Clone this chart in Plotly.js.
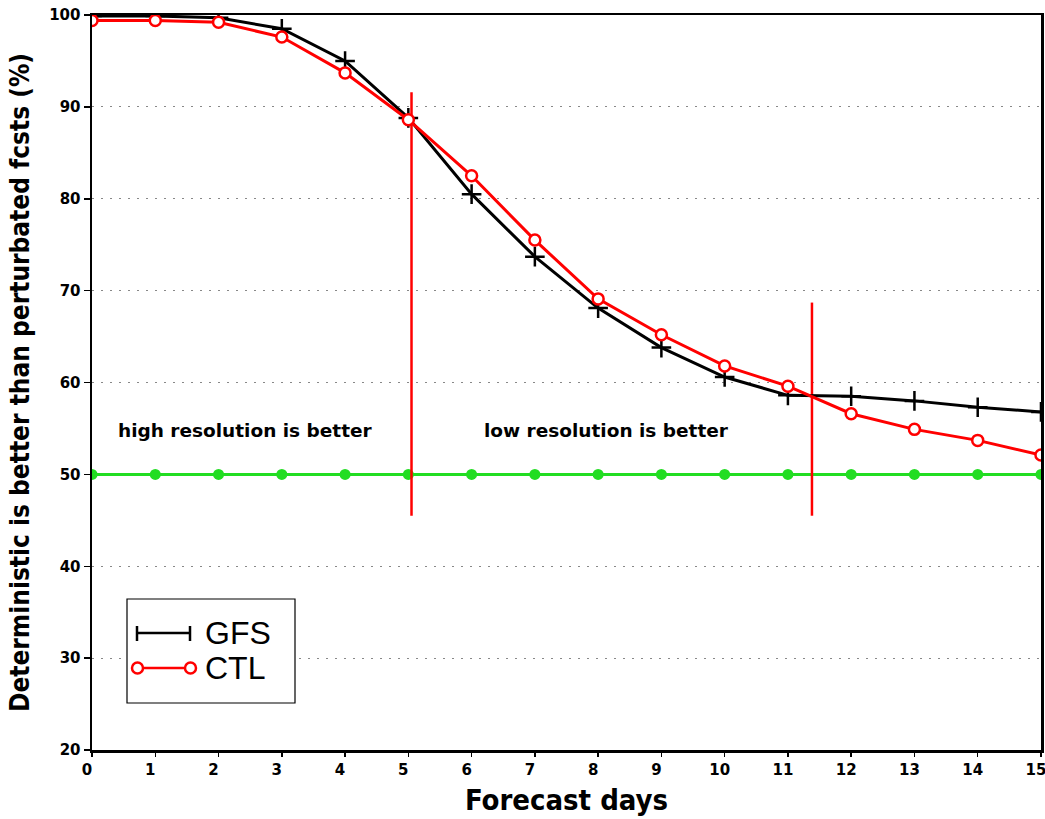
<!DOCTYPE html>
<html>
<head>
<meta charset="utf-8">
<script src="https://cdn.plot.ly/plotly-3.0.1.min.js"></script>
<style>html,body{margin:0;padding:0;background:#fff;}#chart{width:1045px;height:819px;}</style>
</head>
<body>
<div id="chart"></div>
<script>
// ---- data ----
var days = [0, 1, 2, 3, 4, 5, 6, 7, 8, 9, 10, 11, 12, 13, 14, 15];
var gfs  = [99.9, 99.9, 99.7, 98.5, 95.0, 88.8, 80.5, 73.7, 68.1, 63.8, 60.6, 58.6, 58.5, 58.0, 57.3, 56.8];
var ctl  = [99.4, 99.4, 99.2, 97.6, 93.7, 88.6, 82.5, 75.5, 69.1, 65.2, 61.8, 59.6, 56.6, 54.9, 53.7, 52.1];
var ref50 = [50, 50, 50, 50, 50, 50, 50, 50, 50, 50, 50, 50, 50, 50, 50, 50];
var split1X = [5.05, 5.05];
var split1Y = [91.6, 45.5];
var split2X = [11.38, 11.38];
var split2Y = [68.7, 45.5];
var yTicks = [20, 30, 40, 50, 60, 70, 80, 90, 100];
var xTicks = days;
var regionLabels = ["high resolution is better", "low resolution is better"];
var regionX = [2.42, 8.14];
var regionY = [54.8, 54.8];
var legendNames = ["GFS", "CTL"];

// ---- layout geometry (pixels) ----
var W = 1045, H = 819;
var M = {l: 92, r: 4, t: 15, b: 69};
var pw = W - M.l - M.r, ph = H - M.t - M.b;
function px(x) { return (x - M.l) / pw; }
function py(y) { return (H - M.b - y) / ph; }

var traces = [
  {x: days, y: ref50, mode: 'lines+markers', name: '50%', showlegend: false,
   line: {color: '#22dd22', width: 3},
   marker: {symbol: 'circle', size: 11, color: '#22dd22'}},
  {x: split1X, y: split1Y, mode: 'lines', showlegend: false,
   line: {color: '#ff0000', width: 2.5}},
  {x: split2X, y: split2Y, mode: 'lines', showlegend: false,
   line: {color: '#ff0000', width: 2.5}},
  {x: days, y: gfs, mode: 'lines+markers', name: legendNames[0], showlegend: false,
   line: {color: '#000000', width: 3},
   marker: {symbol: 'cross-thin-open', size: 14, color: '#000000', line: {color: '#000000', width: 2.5}}},
  {x: days, y: ctl, mode: 'lines+markers', name: legendNames[1], showlegend: false,
   line: {color: '#ff0000', width: 3},
   marker: {symbol: 'circle', size: 11, color: '#ffffff', line: {color: '#ff0000', width: 2.5}}}
];

var tickFont = {family: 'DejaVu Sans', size: 15, color: '#000', weight: 'bold'};
var titleFamily = 'DejaVu Sans Condensed, DejaVu Sans';

var shapes = [
  // legend box
  {type: 'rect', xref: 'paper', yref: 'paper', x0: px(127), x1: px(295), y0: py(703), y1: py(599),
   line: {color: '#000', width: 1.2}, fillcolor: '#ffffff', layer: 'above'},
  // GFS sample
  {type: 'line', xref: 'paper', yref: 'paper', x0: px(137), x1: px(190), y0: py(633), y1: py(633),
   line: {color: '#000', width: 2.5}, layer: 'above'},
  {type: 'line', xref: 'paper', yref: 'paper', x0: px(137), x1: px(137), y0: py(626), y1: py(641),
   line: {color: '#000', width: 2.5}, layer: 'above'},
  {type: 'line', xref: 'paper', yref: 'paper', x0: px(190), x1: px(190), y0: py(626), y1: py(641),
   line: {color: '#000', width: 2.5}, layer: 'above'},
  // CTL sample
  {type: 'line', xref: 'paper', yref: 'paper', x0: px(137), x1: px(190), y0: py(668), y1: py(668),
   line: {color: '#ff0000', width: 2.5}, layer: 'above'},
  {type: 'circle', xref: 'paper', yref: 'paper', x0: px(132), x1: px(143), y0: py(673.5), y1: py(662.5),
   line: {color: '#ff0000', width: 2.5}, fillcolor: '#ffffff', layer: 'above'},
  {type: 'circle', xref: 'paper', yref: 'paper', x0: px(185), x1: px(196), y0: py(673.5), y1: py(662.5),
   line: {color: '#ff0000', width: 2.5}, fillcolor: '#ffffff', layer: 'above'}
];

var annotations = [
  {text: regionLabels[0], x: regionX[0], y: regionY[0], xref: 'x', yref: 'y', showarrow: false,
   xanchor: 'center', yanchor: 'middle', font: {family: 'DejaVu Sans', size: 18.5, weight: 'bold', color: '#000'}},
  {text: regionLabels[1], x: regionX[1], y: regionY[1], xref: 'x', yref: 'y', showarrow: false,
   xanchor: 'center', yanchor: 'middle', font: {family: 'DejaVu Sans', size: 18.5, weight: 'bold', color: '#000'}},
  {text: legendNames[0], x: px(203), y: py(633), xref: 'paper', yref: 'paper', showarrow: false,
   xanchor: 'left', yanchor: 'middle', font: {family: 'Liberation Sans', size: 32, color: '#000'}},
  {text: legendNames[1], x: px(203), y: py(668), xref: 'paper', yref: 'paper', showarrow: false,
   xanchor: 'left', yanchor: 'middle', font: {family: 'Liberation Sans', size: 32, color: '#000'}}
];

var layout = {
  width: W, height: H,
  margin: M,
  paper_bgcolor: '#ffffff', plot_bgcolor: '#ffffff',
  showlegend: false,
  xaxis: {
    range: [-0.0005, 15.0005], tickvals: xTicks, ticktext: xTicks.map(String),
    ticks: 'outside', ticklen: 4, tickwidth: 1.5, tickcolor: '#000',
    ticklabeloverflow: 'allow', ticklabelshift: -5,
    showline: true, linecolor: '#000', linewidth: 2.5, mirror: true,
    showgrid: false, zeroline: false, tickfont: tickFont,
    title: {text: 'Forecast days', font: {family: titleFamily, size: 29, weight: 'bold', color: '#000'}, standoff: 12}
  },
  yaxis: {
    range: [20, 100], tickvals: yTicks, ticktext: yTicks.map(String),
    ticks: 'outside', ticklen: 6, tickwidth: 1.5, tickcolor: '#000',
    showline: true, linecolor: '#000', linewidth: 2.5, mirror: true,
    showgrid: true, gridcolor: '#888888', gridwidth: 1, griddash: '2px,7px',
    zeroline: false, tickfont: tickFont,
    title: {text: 'Deterministic is better than perturbated fcsts (%)', font: {family: titleFamily, size: 26, weight: 'bold', color: '#000'}, standoff: 12}
  },
  shapes: shapes,
  annotations: annotations
};

Plotly.newPlot('chart', traces, layout, {staticPlot: true, displayModeBar: false});
</script>
</body>
</html>
